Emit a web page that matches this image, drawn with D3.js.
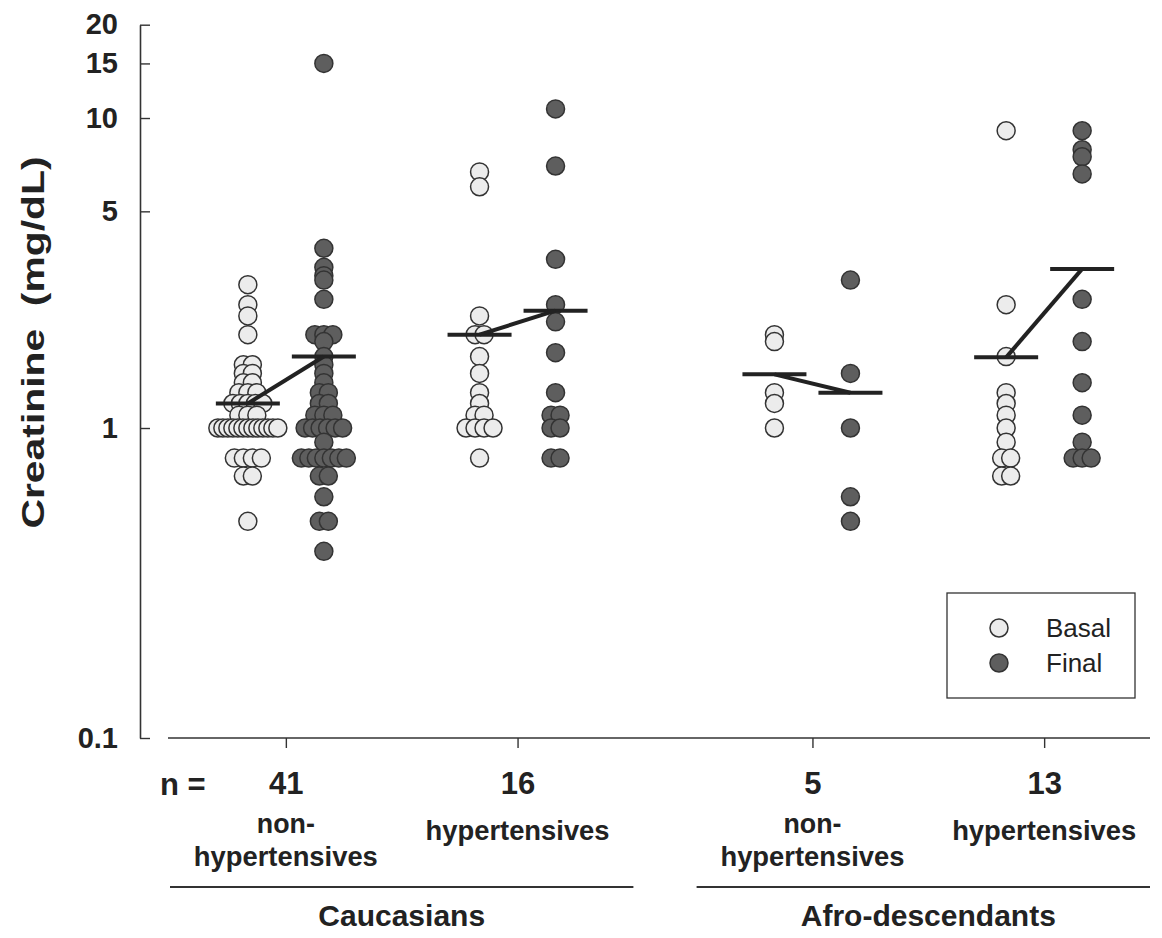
<!DOCTYPE html>
<html>
<head>
<meta charset="utf-8">
<script src="https://cdn.jsdelivr.net/npm/d3@7"></script>
<style>
  body { margin: 0; background: #fff; }
  svg { display: block; font-family: "Liberation Sans", Arial, sans-serif; }
</style>
</head>
<body>
<script>
// groups, left to right
const groupKeys = ["cauc-non", "cauc-ht", "afro-non", "afro-ht"]
const ethnicity = ["Caucasians", "Caucasians", "Afro-descendants", "Afro-descendants"]
const status = ["non", "ht", "non", "ht"]
const nCounts = [41, 16, 5, 13]
const statusLines = { non: ["non-", "hypertensives"], ht: ["hypertensives"] }
const seriesNames = ["Basal", "Final"]

// creatinine values (mg/dL)
const basalCaucNon = [2.9, 2.5, 2.3, 2.0, 1.6, 1.6, 1.5, 1.5, 1.4, 1.4, 1.3, 1.3, 1.3,
  1.2, 1.2, 1.2, 1.2, 1.2, 1.1, 1.1, 1.1, 1, 1, 1, 1, 1, 1, 1, 1, 1, 1, 1, 1, 1,
  0.8, 0.8, 0.8, 0.8, 0.7, 0.7, 0.5]
const finalCaucNon = [15, 3.8, 3.3, 3.1, 3.0, 2.6, 2.0, 2.0, 2.0, 1.9, 1.7, 1.6, 1.5, 1.4,
  1.3, 1.3, 1.2, 1.2, 1.1, 1.1, 1.1, 1, 1, 1, 1, 1, 1, 0.9,
  0.8, 0.8, 0.8, 0.8, 0.8, 0.8, 0.8, 0.7, 0.7, 0.6, 0.5, 0.5, 0.4]
const basalCaucHt = [6.7, 6.0, 2.3, 2.0, 2.0, 1.7, 1.5, 1.3, 1.2, 1.1, 1.1, 1, 1, 1, 1, 0.8]
const finalCaucHt = [10.7, 7.0, 3.5, 2.5, 2.2, 1.75, 1.3, 1.1, 1.1, 1, 1, 0.8, 0.8]
const basalAfroNon = [2.0, 1.9, 1.3, 1.2, 1.0]
const finalAfroNon = [3.0, 1.5, 1.0, 0.6, 0.5]
const basalAfroHt = [9.1, 2.5, 1.7, 1.3, 1.2, 1.1, 1.0, 0.9, 0.8, 0.8, 0.7, 0.7]
const finalAfroHt = [9.1, 7.9, 7.5, 6.6, 2.6, 1.9, 1.4, 1.1, 0.9, 0.8, 0.8, 0.8]

// group means (horizontal bars)
const basalMeans = [1.2, 2.0, 1.49, 1.69]
const finalMeans = [1.7, 2.39, 1.3, 3.26]

const yTicks = [0.1, 1, 5, 10, 15, 20]

const basalData = [basalCaucNon, basalCaucHt, basalAfroNon, basalAfroHt]
const finalData = [finalCaucNon, finalCaucHt, finalAfroNon, finalAfroHt]

const width = 1162
const height = 938
const margin = ({ top: 24.7, left: 140, bottom: 738 })
const colors = { Basal: "#ececec", Final: "#5e5e5e" }
const r = 9

const svg = d3.select("body").append("svg")
  .attr("width", width)
  .attr("height", height)

const y = d3.scaleLog()
  .domain([0.1, 20])
  .range([margin.bottom, margin.top])

const xOuter = d3.scaleBand()
  .domain(["Caucasians", "Afro-descendants"])
  .range([170, 1160])
  .paddingInner(0.12)

const xInner = d3.scalePoint()
  .domain(["non", "ht"])
  .range([0, xOuter.bandwidth()])
  .padding(0.5)

const xSeries = d3.scalePoint()
  .domain(seriesNames)
  .range([-38, 38])

const groupX = groupKeys.map((k, i) => xOuter(ethnicity[i]) + xInner(status[i]))
const xTick = d3.scaleOrdinal().domain(groupKeys).range(groupX)

// spread tied values side by side
const spread = values => {
  const counts = d3.rollup(values, v => v.length, d => d)
  const seen = new Map()
  return values.map(v => {
    const n = counts.get(v)
    const i = seen.get(v) || 0
    seen.set(v, i + 1)
    const s = n > 7 ? 60 / (n - 1) : (n > 4 ? 7.5 : 9)
    return { value: v, dx: (i - (n - 1) / 2) * s }
  })
}

// y axis
svg.append("g")
  .attr("transform", `translate(${margin.left},0)`)
  .call(d3.axisLeft(y).tickValues(yTicks).tickFormat(d3.format("~g"))
    .tickSizeInner(-10).tickSizeOuter(0).tickPadding(22))
  .call(g => g.select(".domain").attr("stroke", "#333").attr("stroke-width", 1.6))
  .call(g => g.selectAll(".tick line").attr("stroke", "#333").attr("stroke-width", 1.4))
  .call(g => g.selectAll(".tick text")
    .attr("font-size", 29).attr("font-weight", "bold").attr("fill", "#222")
    .attr("font-family", "'Liberation Sans', Arial, sans-serif"))

svg.append("text")
  .attr("transform", `translate(44,${(155 + 530) / 2}) rotate(-90)`)
  .attr("text-anchor", "middle")
  .attr("font-size", 32)
  .attr("font-weight", "bold")
  .attr("fill", "#222")
  .attr("textLength", 372)
  .attr("lengthAdjust", "spacingAndGlyphs")
  .text("Creatinine\u00a0\u00a0(mg/dL)")

// x axis
svg.append("line")
  .attr("x1", 168).attr("x2", 1150)
  .attr("y1", margin.bottom).attr("y2", margin.bottom)
  .attr("stroke", "#333").attr("stroke-width", 1.6)

svg.append("g")
  .attr("transform", `translate(0,${margin.bottom})`)
  .call(d3.axisBottom(xTick).tickSizeInner(10).tickSizeOuter(0).tickPadding(24)
    .tickFormat((d, i) => nCounts[i]))
  .call(g => g.select(".domain").remove())
  .call(g => g.selectAll(".tick line").attr("stroke", "#333").attr("stroke-width", 1.4))
  .call(g => g.selectAll(".tick text")
    .attr("font-size", 31).attr("font-weight", "bold").attr("fill", "#222")
    .attr("font-family", "'Liberation Sans', Arial, sans-serif"))

svg.append("text")
  .attr("x", 160).attr("y", 795)
  .attr("font-size", 31).attr("font-weight", "bold").attr("fill", "#222")
  .text("n =")

// group descriptors
groupKeys.forEach((k, i) => {
  const lines = statusLines[status[i]]
  const t = svg.append("text")
    .attr("text-anchor", "middle")
    .attr("font-size", 28).attr("font-weight", "bold").attr("fill", "#222")
  lines.forEach((s, j) => {
    t.append("tspan")
      .attr("x", groupX[i])
      .attr("y", lines.length === 1 ? 840 : 833 + j * 33)
      .attr("textLength", s.length > 5 ? 184 : 58)
      .attr("lengthAdjust", "spacingAndGlyphs")
      .text(s)
  })
})

xOuter.domain().forEach(eth => {
  svg.append("line")
    .attr("x1", xOuter(eth)).attr("x2", Math.min(xOuter(eth) + xOuter.bandwidth(), 1150))
    .attr("y1", 887).attr("y2", 887)
    .attr("stroke", "#333").attr("stroke-width", 2)
  svg.append("text")
    .attr("x", xOuter(eth) + xOuter.bandwidth() / 2)
    .attr("y", 926)
    .attr("text-anchor", "middle")
    .attr("font-size", 30).attr("font-weight", "bold").attr("fill", "#222")
    .text(eth)
})

// points
const points = []
groupKeys.forEach((k, i) => {
  spread(basalData[i]).forEach(p => points.push({ ...p, g: i, series: "Basal" }))
  spread(finalData[i]).forEach(p => points.push({ ...p, g: i, series: "Final" }))
})

svg.append("g")
  .selectAll("circle")
  .data(points)
  .join("circle")
    .attr("cx", d => groupX[d.g] + xSeries(d.series) + d.dx)
    .attr("cy", d => y(d.value))
    .attr("r", r)
    .attr("fill", d => colors[d.series])
    .attr("stroke", "#333")
    .attr("stroke-width", 1.5)

// mean bars and connecting lines
const means = groupKeys.map((k, i) => [
  { x: groupX[i] + xSeries("Basal"), v: basalMeans[i] },
  { x: groupX[i] + xSeries("Final"), v: finalMeans[i] }
])

const meanG = svg.append("g")
  .attr("stroke", "#222")
  .attr("stroke-width", 4)

meanG.selectAll("line.bar")
  .data(means.flat())
  .join("line")
    .attr("class", "bar")
    .attr("x1", d => d.x - 32).attr("x2", d => d.x + 32)
    .attr("y1", d => y(d.v)).attr("y2", d => y(d.v))

meanG.selectAll("line.link")
  .data(means)
  .join("line")
    .attr("class", "link")
    .attr("x1", d => d[0].x).attr("y1", d => y(d[0].v))
    .attr("x2", d => d[1].x).attr("y2", d => y(d[1].v))

// legend
const legend = svg.append("g")
legend.append("rect")
  .attr("x", 947).attr("y", 593)
  .attr("width", 188).attr("height", 105)
  .attr("fill", "#fff").attr("stroke", "#333").attr("stroke-width", 1.3)

legend.selectAll("g")
  .data(seriesNames)
  .join("g")
    .attr("transform", (d, i) => `translate(999,${628 + i * 35})`)
    .call(g => g.append("circle")
      .attr("r", r).attr("fill", d => colors[d])
      .attr("stroke", "#333").attr("stroke-width", 1.5))
    .call(g => g.append("text")
      .attr("x", 47).attr("dy", "0.35em")
      .attr("font-size", 26).attr("fill", "#222")
      .text(d => d))
</script>
</body>
</html>
